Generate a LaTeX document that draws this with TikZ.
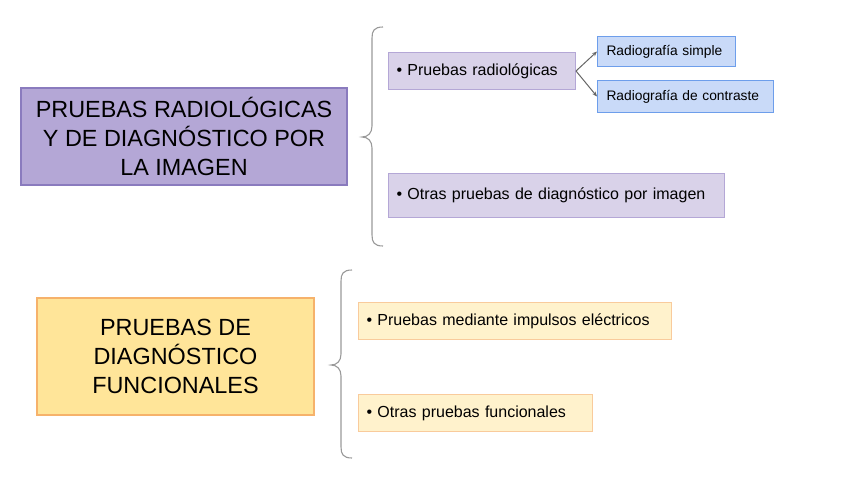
\documentclass[tikz,border=0pt]{standalone}
\usepackage{fontspec}
\setmainfont{Liberation Sans}
\usetikzlibrary{arrows.meta}
\definecolor{mainpurple}{HTML}{B4A7D6}
\definecolor{mainpurpleb}{HTML}{8A7BBE}
\definecolor{lightpurple}{HTML}{D9D2E9}
\definecolor{lightpurpleb}{HTML}{B4A7D6}
\definecolor{lightblue}{HTML}{C9DAF8}
\definecolor{lightblueb}{HTML}{6D9EEB}
\definecolor{mainyellow}{HTML}{FFE599}
\definecolor{mainyellowb}{HTML}{F6B26B}
\definecolor{lightyellow}{HTML}{FFF2CC}
\definecolor{lightyellowb}{HTML}{F9CB9C}
\definecolor{bracec}{HTML}{999999}
\definecolor{arrowcol}{HTML}{666666}
\begin{document}
\begin{tikzpicture}[x=1pt,y=-1pt,
  mainbox/.style={draw, line width=1.3pt, align=center, inner sep=0pt, font=\fontsize{23.4}{29}\selectfont},
  itembox/.style={draw, line width=1pt, anchor=north west, inner xsep=8pt, inner ysep=0pt, align=left, font=\fontsize{16}{19}\selectfont},
  subbox/.style={draw=lightblueb, fill=lightblue, line width=1pt, anchor=north west, inner xsep=9pt, inner ysep=0pt, align=left, font=\fontsize{13.8}{16}\selectfont},
  brace/.style={draw=bracec, line width=1.1pt},
  conn/.style={draw=arrowcol, line width=1pt, -{Stealth[length=5pt,width=4pt]}}
]
\useasboundingbox (0,0) rectangle (848,477);

% Top group
\node[mainbox, fill=mainpurple, draw=mainpurpleb, minimum width=326pt, minimum height=97pt] (m1) at (184,136.5)
  {PRUEBAS RADIOLÓGICAS\\Y DE DIAGNÓSTICO POR\\LA IMAGEN};

\draw[brace] (383,27) .. controls (374,27) and (372,31) .. (372,38)
  -- (372,126) .. controls (372,133) and (368,137) .. (362,137)
  .. controls (368,137) and (372,141) .. (372,148)
  -- (372,235) .. controls (372,242) and (374,246) .. (383,246);

\node[itembox, fill=lightpurple, draw=lightpurpleb, text width=171pt, minimum height=37pt] (pr) at (388,52)
  {• Pruebas radiológicas};
\node[itembox, fill=lightpurple, draw=lightpurpleb, text width=320pt, minimum height=44pt] (op) at (388,173)
  {• Otras pruebas de diagnóstico por imagen};

\node[subbox, text width=120pt, minimum height=30pt] (rs) at (597,36) {Radiografía simple};
\node[subbox, text width=158pt, minimum height=32pt] (rc) at (597,80) {Radiografía de contraste};

\draw[conn] (pr.east) -- (rs.west);
\draw[conn] (pr.east) -- (rc.west);

% Bottom group
\node[mainbox, fill=mainyellow, draw=mainyellowb, minimum width=277pt, minimum height=117pt] (m2) at (175.5,356.5)
  {PRUEBAS DE\\DIAGNÓSTICO\\FUNCIONALES};

\draw[brace] (352,270) .. controls (343,270) and (341,274) .. (341,281)
  -- (341,354) .. controls (341,361) and (337,365) .. (331,365)
  .. controls (337,365) and (341,369) .. (341,376)
  -- (341,447) .. controls (341,454) and (343,458) .. (352,458);

\node[itembox, fill=lightyellow, draw=lightyellowb, text width=297pt, minimum height=37pt] (pe) at (358,302)
  {• Pruebas mediante impulsos eléctricos};
\node[itembox, fill=lightyellow, draw=lightyellowb, text width=218pt, minimum height=37pt] (of) at (358,394)
  {• Otras pruebas funcionales};
\end{tikzpicture}
\end{document}
